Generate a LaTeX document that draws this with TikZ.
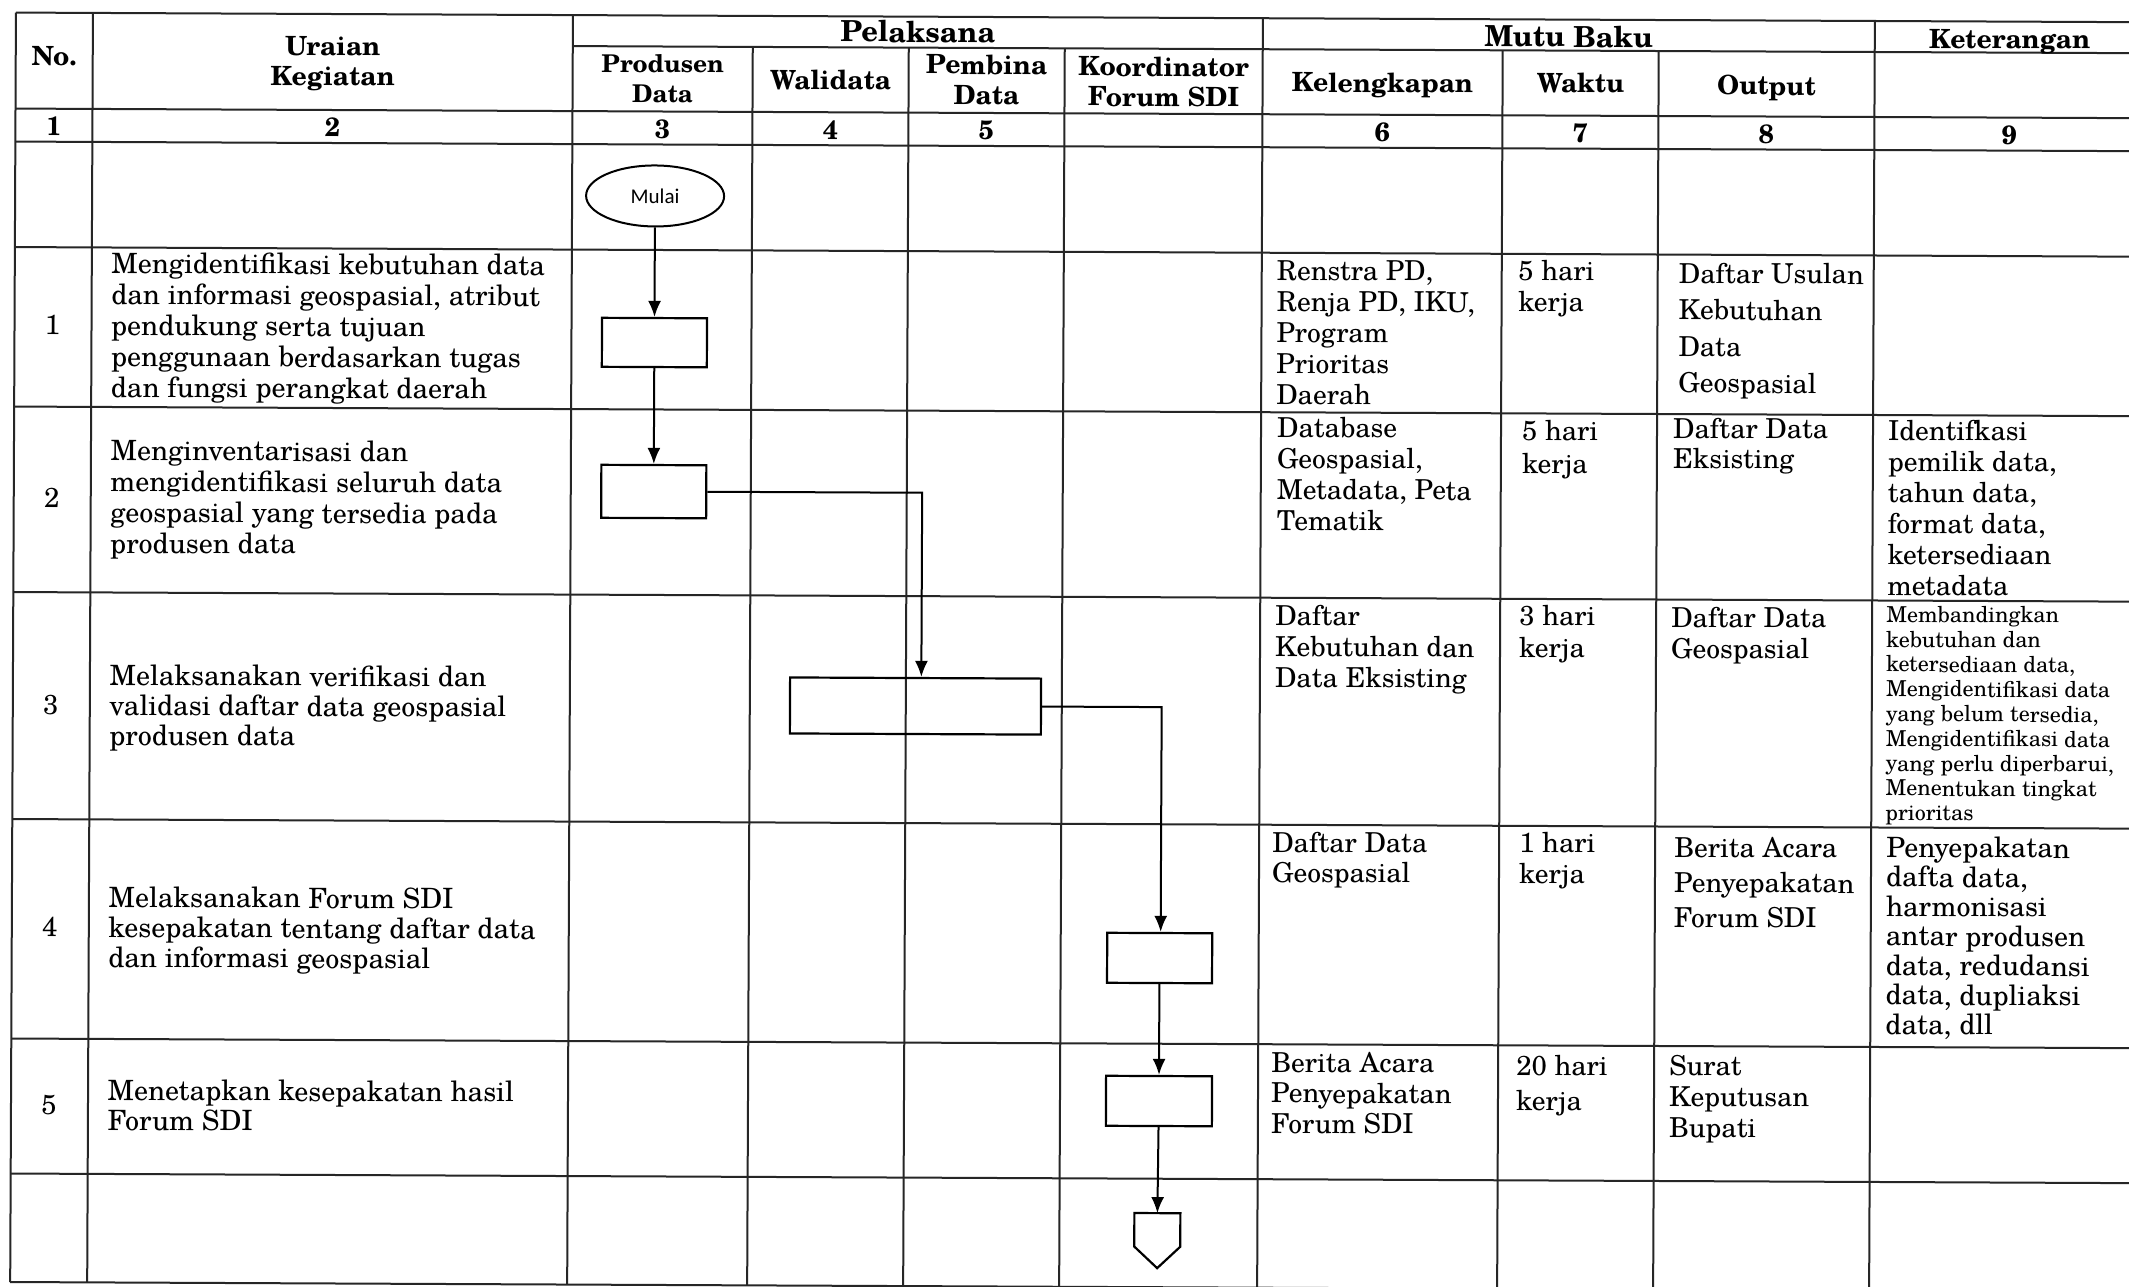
\documentclass[tikz,border=0pt]{standalone}
\usepackage{fontspec}
\setmainfont{texgyreschola}[Extension=.otf,UprightFont=*-regular,BoldFont=*-bold,ItalicFont=*-italic,BoldItalicFont=*-bolditalic]
\newfontfamily\mulaifont{Carlito}
\usetikzlibrary{shapes.geometric,arrows.meta}
\tikzset{
  grid/.style={line width=2pt, draw=black!85},
  hd/.style={inner sep=0pt, font=\fontsize{26.5}{30}\selectfont\bfseries, align=center},
  hdbig/.style={inner sep=0pt, font=\fontsize{29}{30}\selectfont\bfseries, align=center},
  hdsm/.style={inner sep=0pt, font=\fontsize{24.5}{30}\selectfont\bfseries, align=center},
  body/.style={inner sep=0pt, anchor=north west, align=left, font=\fontsize{27.5}{#1}\selectfont},
  body/.default=31,
  bodyw/.style={inner sep=0pt, anchor=north west, align=left, font=\fontsize{28}{#1}\selectfont},
  bodyw/.default=31,
  small/.style={inner sep=0pt, anchor=north west, align=left, font=\fontsize{22}{24.8}\selectfont},
  proc/.style={draw=black, line width=2.2pt, rectangle, inner sep=0pt},
  startstop/.style={draw=black, line width=2pt, ellipse, inner sep=0pt, font=\mulaifont\fontsize{21}{25}\selectfont},
  flow/.style={line width=2pt, draw=black, -{Latex[length=16pt,width=13pt]}},
}
\begin{document}
\begin{tikzpicture}[x=1pt,y=-1pt]
\useasboundingbox (0,0) rectangle (2129,1287);
\fill[white] (0,0) rectangle (2129,1287);
\clip (0,0) rectangle (2129,1287);
\begin{scope}[rotate=-0.26, every node/.append style={transform shape}]
% ---------- grid ----------
\draw[grid] (16,12.5) -- (2150,12.5);
\draw[grid] (573,43.5) -- (2150,43.5);
\foreach \v in {108.5,141.5,247,406.5,592,819,1038.5,1173.5,1282}
  \draw[grid] (16,\v) -- (2150,\v);
\foreach \u in {16,93,573,1263,1875}
  \draw[grid] (\u,12.5) -- (\u,1282);
\foreach \u in {753,909,1065,1503,1659}
  \draw[grid] (\u,43.5) -- (\u,1282);
% ---------- header ----------
\node[hd, anchor=base] (hno) at (54.5,65) {No.};
\node[hd, anchor=north] (hur) at (333,33) {\strut Uraian\\Kegiatan};
\node[hdbig, anchor=base] (hpel) at (918,38) {Pelaksana};
\node[hdbig, anchor=base] (hmutu) at (1569,40) {Mutu Baku};
\node[hd, anchor=base] (hket) at (2010,39.5) {Keterangan};
\node[hdsm, anchor=north] (hprod) at (663,48.5) {\strut Produsen\\Data};
\node[hd, anchor=base] (hwali) at (831,86) {Walidata};
\node[hd, anchor=north] (hpemb) at (987,48.5) {\strut Pembina\\Data};
\node[hd, anchor=north] (hkoor) at (1164,49.8) {\strut Koordinator\\Forum SDI};
\node[hd, anchor=base] (hkel) at (1383,86) {Kelengkapan};
\node[hd, anchor=base] (hwak) at (1581,85.5) {Waktu};
\node[hd, anchor=base] (hout) at (1767,87) {Output};
\foreach \t/\x in {1/54.5,2/333,3/663,4/831,5/987,6/1383,7/1581,8/1767,9/2010}
  \node[hd, anchor=base] (n\t) at (\x,135.5) {\t};
% ---------- row numbers ----------
\node[body, anchor=base] (r1) at (54,334.8) {1};
\node[body, anchor=base] (r2) at (54,507.8) {2};
\node[body, anchor=base] (r3) at (54,714.8) {3};
\node[body, anchor=base] (r4) at (54,936.5) {4};
\node[body, anchor=base] (r5) at (54,1114.8) {5};
% ---------- column 2 ----------
\node[bodyw] (k1t) at (112.5,250.8) {\strut Mengidentifikasi kebutuhan data\\dan informasi geospasial, atribut\\pendukung serta tujuan\\penggunaan berdasarkan tugas\\dan fungsi perangkat daerah};
\node[bodyw] (k2t) at (112.5,437.8) {\strut Menginventarisasi dan\\mengidentifikasi seluruh data\\geospasial yang tersedia pada\\produsen data};
\node[bodyw=30] (k3t) at (112.5,663.5) {\strut Melaksanakan verifikasi dan\\validasi daftar data geospasial\\produsen data};
\node[bodyw=30] (k4t) at (112.5,885.5) {\strut Melaksanakan Forum SDI\\kesepakatan tentang daftar data\\dan informasi geospasial};
\node[bodyw=30] (k5t) at (112.5,1078.5) {\strut Menetapkan kesepakatan hasil\\Forum SDI};
% ---------- row 1 ----------
\node[body] (c61) at (1278,252.6) {\strut Renstra PD,\\Renja PD, IKU,\\Program\\Prioritas\\Daerah};
\node[body] (c71) at (1519.5,251.5) {\strut 5 hari\\kerja};
\node[body=36.5] (c81) at (1680,249.9) {\strut Daftar Usulan\\Kebutuhan\\Data\\Geospasial};
% ---------- row 2 ----------
\node[body] (c62) at (1279,409.6) {\strut Database\\Geospasial,\\Metadata, Peta\\Tematik};
\node[body=33] (c72) at (1524,410.1) {\strut 5 hari\\kerja};
\node[body=30] (c82) at (1675,409.5) {\strut Daftar Data\\Eksisting};
\node[body] (c92) at (1890,409.8) {\strut Identifkasi\\pemilik data,\\tahun data,\\format data,\\ketersediaan\\metadata};
% ---------- row 3 ----------
\node[body] (c63) at (1278,597.6) {\strut Daftar\\Kebutuhan dan\\Data Eksisting};
\node[body=32] (c73) at (1522,595.8) {\strut 3 hari\\kerja};
\node[body] (c83) at (1674,597.8) {\strut Daftar Data\\Geospasial};
\node[small] (c93) at (1889,596.1) {\strut Membandingkan\\kebutuhan dan\\ketersediaan data,\\Mengidentifikasi data\\yang belum tersedia,\\Mengidentifikasi data\\yang perlu diperbarui,\\Menentukan tingkat\\prioritas};
% ---------- row 4 ----------
\node[body=30] (c64) at (1276,825.3) {\strut Daftar Data\\Geospasial};
\node[body] (c74) at (1523,823.5) {\strut 1 hari\\kerja};
\node[body=35] (c84) at (1678,825) {\strut Berita Acara\\Penyepakatan\\Forum SDI};
\node[bodyw=29.5] (c94) at (1890,827.9) {\strut Penyepakatan\\dafta data,\\harmonisasi\\antar produsen\\data, redudansi\\data, dupliaksi\\data, dll};
% ---------- row 5 ----------
\node[body=30.5] (c65) at (1276,1045) {\strut Berita Acara\\Penyepakatan\\Forum SDI};
\node[body=35] (c75) at (1521,1043.7) {\strut 20 hari\\kerja};
\node[body] (c85) at (1674,1045.8) {\strut Surat\\Keputusan\\Bupati};
% ---------- flowchart ----------
\node[startstop, minimum width=138pt, minimum height=61pt] (mulai) at (656,193) {Mulai};
\node[proc, minimum width=105pt, minimum height=49pt] (b1) at (656,339.6) {};
\node[proc, minimum width=105pt, minimum height=53pt] (b2) at (656,488.6) {};
\node[proc, minimum width=251pt, minimum height=56pt] (b3) at (918.7,701.9) {};
\node[proc, minimum width=105pt, minimum height=50pt] (b4) at (1164,952.8) {};
\node[proc, minimum width=106pt, minimum height=50pt] (b5) at (1164,1095.8) {};
\coordinate (k1) at (924.5,488.6);
\coordinate (k2) at (1165,701.9);
\coordinate (fin) at (1163,1208);
\draw[flow] (mulai) -- (b1);
\draw[flow] (b1) -- (b2);
\draw[flow] (b2.east) -- (k1) -- (k1 |- b3.north);
\draw[flow] (b3.east) -- (k2) -- (k2 |- b4.north);
\draw[flow] (b4) -- (b5);
\draw[flow] (b5) -- (fin);
\draw[line width=2.2pt, line join=miter] (fin) ++(-23,0) -- ++(46,0) -- ++(0,33.5) -- ++(-23,21.5) -- ++(-23,-21.5) -- cycle;
\end{scope}
\end{tikzpicture}
\end{document}
